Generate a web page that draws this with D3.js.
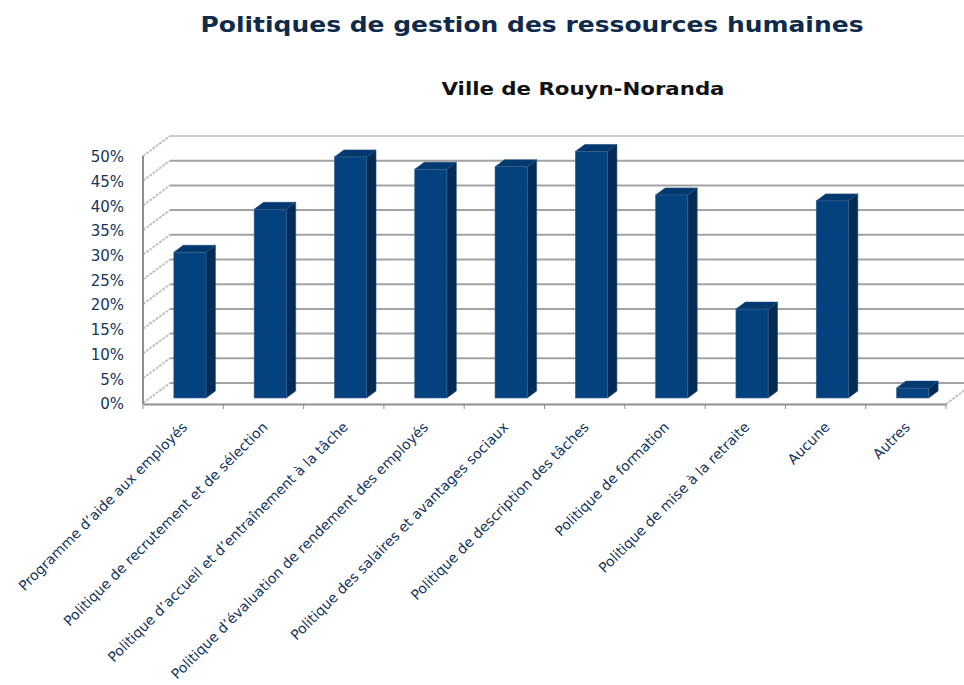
<!DOCTYPE html>
<html lang="fr">
    <head>
        <meta charset="utf-8">
        <title>Politiques de gestion des ressources humaines</title>
        <script src="https://d3js.org/d3.v7.min.js"></script>
        <style type="text/css">
            body { margin: 0; background: #fff; }
            text { font-family: "DejaVu Sans", sans-serif; }
        </style>
    </head>
    <body>
        <script type="text/javascript">

            const w = 964;
            const h = 685;

            // data
            const categories = [
                "Programme d\u2019aide aux employés",
                "Politique de recrutement et de sélection",
                "Politique d\u2019accueil et d\u2019entraînement à la tâche",
                "Politique d\u2019évaluation de rendement des employés",
                "Politique des salaires et avantages sociaux",
                "Politique de description des tâches",
                "Politique de formation",
                "Politique de mise à la retraite",
                "Aucune",
                "Autres"
            ];
            const values = [0.295, 0.382, 0.488, 0.463, 0.468, 0.499, 0.411, 0.180, 0.399, 0.020];
            const yTicks = [0, 0.05, 0.10, 0.15, 0.20, 0.25, 0.30, 0.35, 0.40, 0.45, 0.50];

            // 3d depth of the plot box (front -> back wall)
            const depthX = 27, depthY = -20;
            const barFront = 0.25, barBack = 0.6;

            const xScale = d3.scaleBand()
                             .domain(categories)
                             .range([143, 946]);

            const yScale = d3.scaleLinear()
                             .domain([0, 0.5])
                             .range([403, 156]);

            const barW = xScale.bandwidth() * 0.4;

            const svg = d3.select("body")
                          .append("svg")
                          .attr("width", w)
                          .attr("height", h);

            // titles
            svg.append("text")
               .attr("x", 532)
               .attr("y", 32)
               .attr("text-anchor", "middle")
               .attr("textLength", 663)
               .attr("lengthAdjust", "spacingAndGlyphs")
               .style("font-weight", "bold")
               .style("font-size", "22px")
               .style("fill", "#0f2a4a")
               .text("Politiques de gestion des ressources humaines");

            svg.append("text")
               .attr("x", 583)
               .attr("y", 95)
               .attr("text-anchor", "middle")
               .attr("textLength", 283)
               .attr("lengthAdjust", "spacingAndGlyphs")
               .style("font-weight", "bold")
               .style("font-size", "18px")
               .style("fill", "#111")
               .text("Ville de Rouyn-Noranda");

            const x0 = xScale.range()[0], x1 = xScale.range()[1];

            // back wall gridlines
            svg.append("g")
               .selectAll("line")
               .data(yTicks)
               .enter()
               .append("line")
               .attr("x1", x0 + depthX)
               .attr("x2", x1 + depthX)
               .attr("y1", d => yScale(d) + depthY)
               .attr("y2", d => yScale(d) + depthY)
               .style("stroke", (d, i) => i === yTicks.length - 1 ? "#bdbdbd" : "#a3a3a3")
               .style("stroke-width", (d, i) => i === yTicks.length - 1 ? 1.5 : 2);

            // side wall lines
            svg.append("g")
               .selectAll("line")
               .data(yTicks)
               .enter()
               .append("line")
               .attr("x1", x0)
               .attr("x2", x0 + depthX)
               .attr("y1", d => yScale(d))
               .attr("y2", d => yScale(d) + depthY)
               .style("stroke", "#c4c4c4")
               .style("stroke-width", 2)
               .style("stroke-dasharray", "3,1");

            // right floor edge
            svg.append("line")
               .attr("x1", x1)
               .attr("x2", x1 + depthX)
               .attr("y1", yScale(0) + 1)
               .attr("y2", yScale(0) + 1 + depthY)
               .style("stroke", "#c4c4c4")
               .style("stroke-width", 2)
               .style("stroke-dasharray", "3,1");

            // left axis line
            svg.append("line")
               .attr("x1", x0).attr("x2", x0)
               .attr("y1", yScale(0.5)).attr("y2", yScale(0) + 1)
               .style("stroke", "#8f8f8f")
               .style("stroke-width", 2);

            // bars
            const bars = svg.selectAll("g.bar")
                            .data(categories.map((c, i) => ({cat: c, val: values[i]})))
                            .enter()
                            .append("g")
                            .attr("class", "bar");

            const fx = d => xScale(d.cat) + (xScale.bandwidth() - barW) / 2 + depthX * barFront;
            const fy0 = yScale(0) + depthY * barFront;
            const fyTop = d => yScale(d.val) + depthY * barFront;
            const bdx = depthX * (barBack - barFront), bdy = depthY * (barBack - barFront);

            // side face
            bars.append("polygon")
                .attr("points", d => [
                    [fx(d) + barW, fyTop(d)],
                    [fx(d) + barW + bdx, fyTop(d) + bdy],
                    [fx(d) + barW + bdx, fy0 + bdy],
                    [fx(d) + barW, fy0]
                ].join(" "))
                .style("fill", "#022b55")
                .style("stroke", "#2a4a70")
                .style("stroke-width", 0.6);

            // top face
            bars.append("polygon")
                .attr("points", d => [
                    [fx(d), fyTop(d)],
                    [fx(d) + bdx, fyTop(d) + bdy],
                    [fx(d) + barW + bdx, fyTop(d) + bdy],
                    [fx(d) + barW, fyTop(d)]
                ].join(" "))
                .style("fill", "#03396f")
                .style("stroke", "#1f4a7a")
                .style("stroke-width", 0.6);

            // front face
            bars.append("rect")
                .attr("x", fx)
                .attr("y", fyTop)
                .attr("width", barW)
                .attr("height", d => fy0 - fyTop(d))
                .style("fill", "#04417f")
                .style("stroke", "#3d6490")
                .style("stroke-width", 0.6);

            // floor front line and ticks
            const bottomAxis = d3.axisBottom(xScale)
                                 .tickSize(0)
                                 .tickFormat("");
            const gx = svg.append("g")
                          .attr("transform", "translate(0," + (yScale(0) + 1) + ")")
                          .call(bottomAxis);
            gx.select(".domain").style("stroke", "#8f8f8f").style("stroke-width", 2);

            svg.append("g")
               .selectAll("line")
               .data(categories.concat(["end"]))
               .enter()
               .append("line")
               .attr("x1", (d, i) => i < categories.length ? xScale(d) : x1)
               .attr("x2", (d, i) => i < categories.length ? xScale(d) : x1)
               .attr("y1", yScale(0) + 1)
               .attr("y2", yScale(0) + 6)
               .style("stroke", "#8f8f8f")
               .style("stroke-width", 1);

            // y labels
            svg.append("g")
               .selectAll("text")
               .data(yTicks)
               .enter()
               .append("text")
               .attr("x", 124)
               .attr("y", d => yScale(d) + 1)
               .attr("dy", "0.35em")
               .attr("text-anchor", "end")
               .style("font-size", "15px")
               .style("fill", "#17365d")
               .text(d => d3.format(".0%")(d));

            // x labels
            svg.append("g")
               .selectAll("text")
               .data(categories)
               .enter()
               .append("text")
               .attr("text-anchor", "end")
               .attr("transform", d => "translate(" + (xScale(d) + xScale.bandwidth() / 2 + 5) + "," + 428 + ") rotate(-45)")
               .style("font-size", "14px")
               .style("fill", "#17365d")
               .text(d => d);

        </script>
    </body>
</html>
